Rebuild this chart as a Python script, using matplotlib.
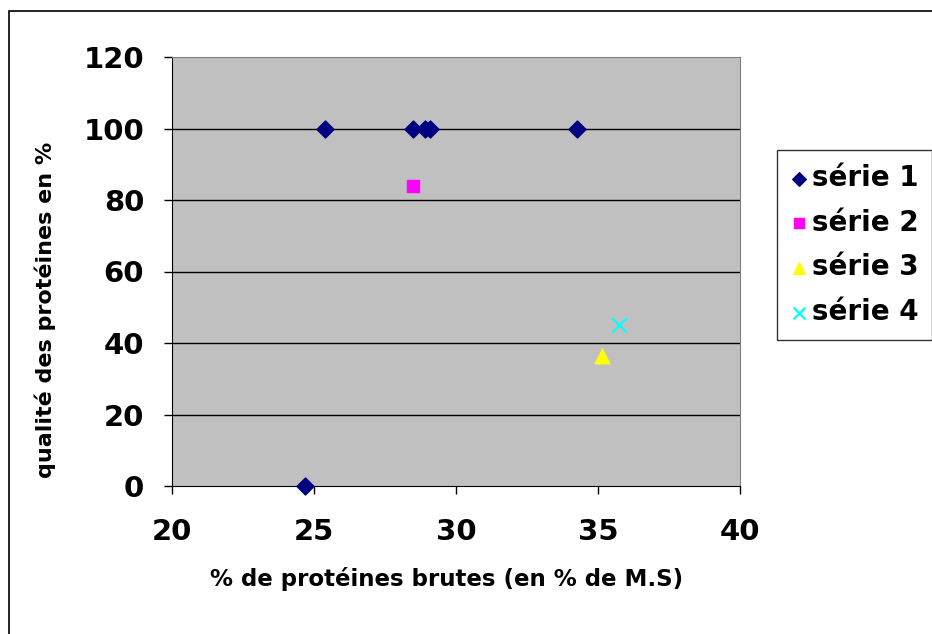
import matplotlib
matplotlib.use("Agg")
import matplotlib.pyplot as plt
from matplotlib.patches import Rectangle

# data
serie1_x = [24.7, 25.4, 28.5, 28.9, 29.1, 34.25]
serie1_y = [0, 100, 100, 100, 100, 100]
serie2_x = [28.47]
serie2_y = [84]
serie3_x = [35.15]
serie3_y = [36.5]
serie4_x = [35.73]
serie4_y = [45]

x_ticks = [20, 25, 30, 35, 40]
y_ticks = [0, 20, 40, 60, 80, 100, 120]

plt.rcParams['font.family'] = ['DejaVu Sans']
plt.rcParams['font.weight'] = 'bold'

fig = plt.figure(figsize=(9.32, 6.34), dpi=100)
ax = fig.add_axes([172/932, 1 - 486/634, (740-172)/932, (486-57)/634])
ax.set_facecolor('#C0C0C0')

# outer chart frame (only left/top visible in the reference)
fig.patches.append(Rectangle((9/932, -0.05), 1.2, 1 - 11/634 + 0.05,
                             transform=fig.transFigure, fill=False,
                             edgecolor='black', linewidth=1.2))

for y in y_ticks[1:-1]:
    ax.axhline(y, color='black', linewidth=1.0, zorder=1)

ax.scatter(serie1_x, serie1_y, marker='D', s=75, color='#000080', label='série 1', zorder=3, clip_on=False)
ax.scatter(serie2_x, serie2_y, marker='s', s=85, color='#FF00FF', label='série 2', zorder=3)
ax.scatter(serie3_x, serie3_y, marker='^', s=110, color='#FFFF00', label='série 3', zorder=3)
ax.scatter(serie4_x, serie4_y, marker='x', s=110, color='#00FFFF', linewidths=1.6, label='série 4', zorder=3)

ax.set_xlim(20, 40)
ax.set_ylim(0, 120)
ax.set_xticks(x_ticks)
ax.set_yticks(y_ticks)
ax.tick_params(axis='both', labelsize=21, length=6, width=1, direction='out', color='black')
ax.tick_params(axis='x', pad=17)
ax.tick_params(axis='y', pad=14)

for side in ['top', 'right']:
    ax.spines[side].set_color('#808080')
ax.spines['left'].set_color('black')
ax.spines['bottom'].set_color('black')

ax.set_xlabel('% de protéines brutes (en % de M.S)', fontsize=16.5, fontweight='bold')
ax.set_ylabel('qualité des protéines en %', fontsize=16, fontweight='bold')
ax.xaxis.set_label_coords((447 - 172) / 568, -(567 - 486) / 429)
ax.yaxis.set_label_coords(-(172 - 56) / 568, (486 - 310) / 429)

leg = fig.legend(loc='upper left', bbox_to_anchor=(777/932, 1 - 150/634),
                 fontsize=20, frameon=True, fancybox=False, edgecolor='black',
                 handletextpad=0.15, handlelength=0.6, labelspacing=0.6,
                 borderpad=0.5, borderaxespad=0, markerscale=0.8)
leg.get_frame().set_linewidth(1.0)
for t in leg.get_texts():
    t.set_fontweight('bold')

fig.savefig('out.png', dpi=100)
